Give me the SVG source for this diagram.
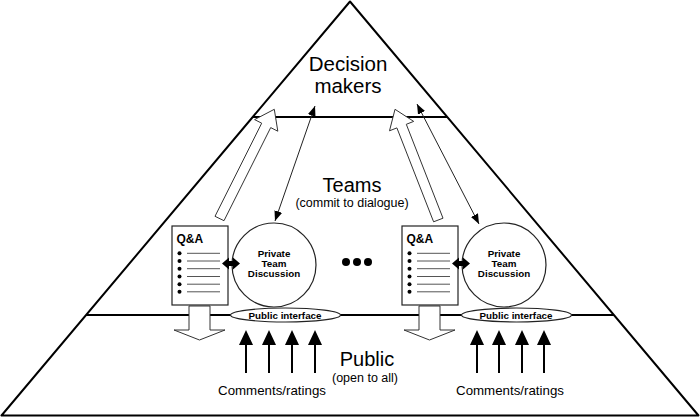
<svg xmlns="http://www.w3.org/2000/svg" width="700" height="417" viewBox="0 0 700 417">
<style>
text{font-family:"Liberation Sans",Arial,sans-serif;fill:#000}
.b{font-weight:bold}
.frame{fill:none;stroke:#000;stroke-width:2;stroke-linejoin:round}
.tier{stroke:#000;stroke-width:2}
.box{fill:#fff;stroke:#222;stroke-width:1.2}
.hollow{fill:#fff;stroke:#333;stroke-width:1}
.thin{stroke:#222;stroke-width:1;fill:none;marker-start:url(#th);marker-end:url(#th)}
.up{stroke:#000;stroke-width:2;marker-end:url(#uh)}
.bul{stroke:#555;stroke-width:1}
</style>
<defs>
<marker id="th" markerUnits="userSpaceOnUse" markerWidth="10" markerHeight="8" refX="10" refY="4" orient="auto-start-reverse"><path d="M0,0 L10,4 L0,8 z" fill="#000"/></marker>
<marker id="uh" markerUnits="userSpaceOnUse" markerWidth="15" markerHeight="14" refX="7" refY="7" orient="auto"><path d="M0,0 L15,7 L0,14 z" fill="#000"/></marker>
</defs>

<g id="pyramid">
<polygon class="frame" points="350,1.5 1.5,415.5 698.5,415.5"/>
<line class="tier" x1="253" y1="117" x2="447" y2="117"/>
<line class="tier" x1="86" y1="315" x2="614" y2="315"/>
</g>

<g id="labels">
<text x="348" y="71" font-size="20.5" text-anchor="middle">Decision</text>
<text x="348" y="93" font-size="20.5" text-anchor="middle">makers</text>
<text x="352" y="192" font-size="20" text-anchor="middle">Teams</text>
<text x="352" y="207" font-size="12.5" text-anchor="middle">(commit to dialogue)</text>
<text x="367" y="366" font-size="20" text-anchor="middle">Public</text>
<text x="365" y="382" font-size="12.5" text-anchor="middle">(open to all)</text>
</g>

<g id="qa-left">
<rect class="box" x="172" y="226" width="56" height="79"/>
<text class="b" x="176.5" y="242.7" font-size="12">Q&amp;A</text>
<g fill="#000"><circle cx="179.5" cy="253.3" r="2"/><circle cx="179.5" cy="261" r="2"/><circle cx="179.5" cy="268.7" r="2"/><circle cx="179.5" cy="276.5" r="2"/><circle cx="179.5" cy="284.2" r="2"/><circle cx="179.5" cy="291.8" r="2"/></g>
<g class="bul"><line x1="187" y1="253.3" x2="220" y2="253.3"/><line x1="187" y1="261" x2="220" y2="261"/><line x1="187" y1="268.7" x2="220" y2="268.7"/><line x1="187" y1="276.5" x2="220" y2="276.5"/><line x1="187" y1="284.2" x2="220" y2="284.2"/><line x1="187" y1="291.8" x2="220" y2="291.8"/></g>
</g>

<g id="qa-right">
<rect class="box" x="402" y="226" width="56" height="79"/>
<text class="b" x="406.5" y="242.7" font-size="12">Q&amp;A</text>
<g fill="#000"><circle cx="409.5" cy="253.3" r="2"/><circle cx="409.5" cy="261" r="2"/><circle cx="409.5" cy="268.7" r="2"/><circle cx="409.5" cy="276.5" r="2"/><circle cx="409.5" cy="284.2" r="2"/><circle cx="409.5" cy="291.8" r="2"/></g>
<g class="bul"><line x1="417" y1="253.3" x2="450" y2="253.3"/><line x1="417" y1="261" x2="450" y2="261"/><line x1="417" y1="268.7" x2="450" y2="268.7"/><line x1="417" y1="276.5" x2="450" y2="276.5"/><line x1="417" y1="284.2" x2="450" y2="284.2"/><line x1="417" y1="291.8" x2="450" y2="291.8"/></g>
</g>

<g id="discussion-left">
<circle class="box" cx="274" cy="265" r="42"/>
<text class="b" x="274" y="257" font-size="9.8" text-anchor="middle">Private</text>
<text class="b" x="274" y="267" font-size="9.8" text-anchor="middle">Team</text>
<text class="b" x="274" y="277" font-size="9.8" text-anchor="middle">Discussion</text>
</g>

<g id="discussion-right">
<circle class="box" cx="504" cy="265" r="42"/>
<text class="b" x="504" y="257" font-size="9.8" text-anchor="middle">Private</text>
<text class="b" x="504" y="267" font-size="9.8" text-anchor="middle">Team</text>
<text class="b" x="504" y="277" font-size="9.8" text-anchor="middle">Discussion</text>
</g>

<g id="interface-left">
<ellipse class="box" cx="285.5" cy="315" rx="55" ry="7"/>
<text class="b" x="285" y="318.5" font-size="9.8" text-anchor="middle">Public interface</text>
</g>

<g id="interface-right">
<ellipse class="box" cx="516.5" cy="315" rx="55" ry="7"/>
<text class="b" x="516" y="318.5" font-size="9.8" text-anchor="middle">Public interface</text>
</g>

<g id="ellipsis" fill="#000">
<circle cx="346" cy="262" r="4"/>
<circle cx="357" cy="262" r="4"/>
<circle cx="368" cy="262" r="4"/>
</g>

<g id="comments-left">
<text x="272" y="395" font-size="13.3" text-anchor="middle">Comments/ratings</text>
</g>
<g id="comments-right">
<text x="510" y="395" font-size="13.3" text-anchor="middle">Comments/ratings</text>
</g>

<g id="connectors">
<polygon class="hollow" points="215,216.3 261.7,123.2 254.6,119.6 274.3,109.3 277.8,131.2 270.7,127.6 224,220.7"/>
<polygon class="hollow" points="433.6,221.8 396.9,127.9 389.5,130.8 395,109.3 413.7,121.4 406.3,124.3 443,218.2"/>
<line class="thin" x1="315" y1="106" x2="275" y2="221"/>
<line class="thin" x1="417" y1="104" x2="479" y2="224"/>
<polygon class="hollow" points="189,306 210,306 210,330 225,330 199.5,340 174,330 189,330"/>
<polygon class="hollow" points="419,306 440,306 440,330 455,330 429.5,340 404,330 419,330"/>
<polygon fill="#000" points="222,263.5 229,257.5 229,261 233,261 233,257.5 240,263.5 233,269.5 233,266 229,266 229,269.5"/>
<polygon fill="#000" points="452,263.5 459,257.5 459,261 463,261 463,257.5 470,263.5 463,269.5 463,266 459,266 459,269.5"/>
<line class="up" x1="246" y1="373" x2="246" y2="338"/>
<line class="up" x1="269" y1="373" x2="269" y2="338"/>
<line class="up" x1="292" y1="373" x2="292" y2="338"/>
<line class="up" x1="315" y1="373" x2="315" y2="338"/>
<line class="up" x1="477" y1="373" x2="477" y2="338"/>
<line class="up" x1="499" y1="373" x2="499" y2="338"/>
<line class="up" x1="522" y1="373" x2="522" y2="338"/>
<line class="up" x1="544" y1="373" x2="544" y2="338"/>
</g>
</svg>
